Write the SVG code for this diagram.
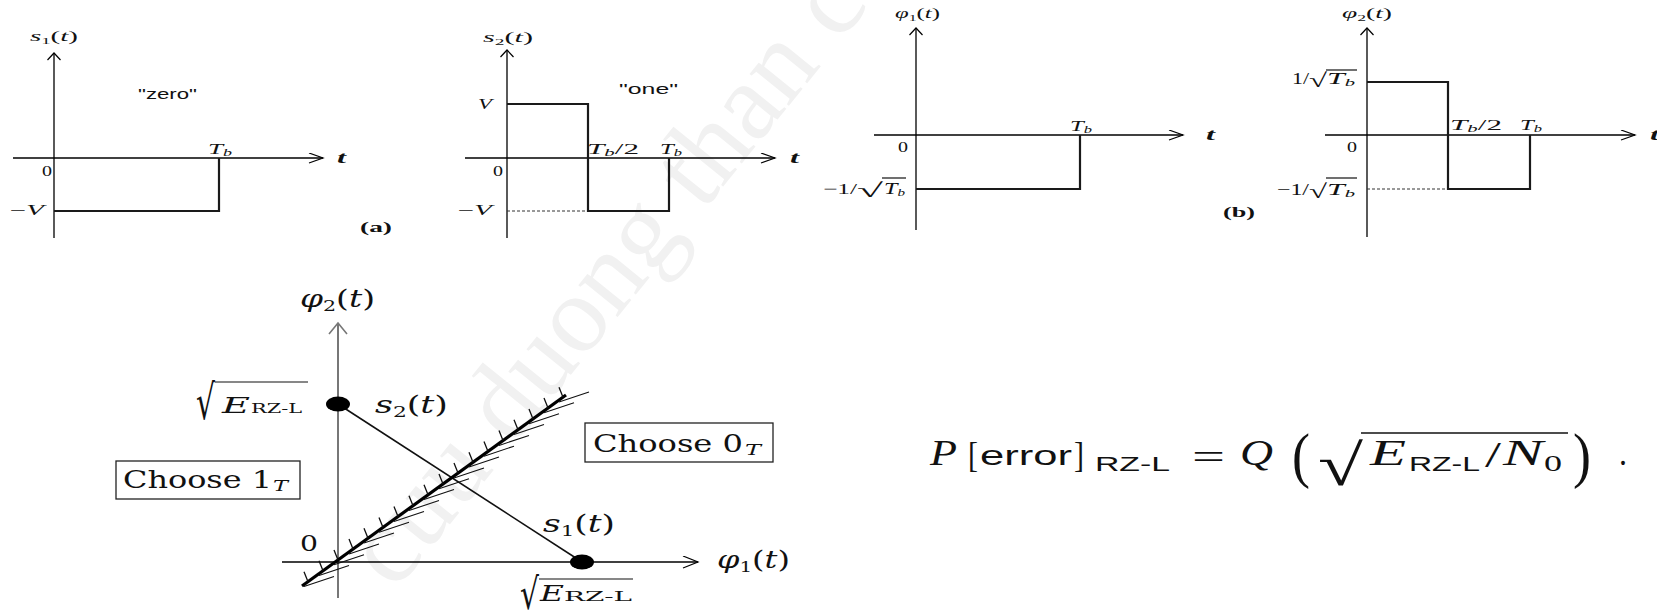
<svg xmlns="http://www.w3.org/2000/svg" width="1657" height="614" viewBox="0 0 1657 614">
<style>
.ax{stroke:#000;stroke-width:1.3;fill:none}
.pl{stroke:#1a1a1a;stroke-width:2.2;fill:none}
.ds{stroke:#333;stroke-width:1;stroke-dasharray:3 2;fill:none}
.t{font-family:"Liberation Serif",serif;fill:#111}
.dj{font-family:"DejaVu Serif",serif;fill:#111}
.sa{font-family:"Liberation Sans",sans-serif;fill:#111}
.i{font-style:italic}
.b{font-weight:bold}
.ln{stroke:#111;stroke-width:1.2;fill:none}
</style>
<defs>
<marker id="aR" markerUnits="userSpaceOnUse" markerWidth="18" markerHeight="12" refX="15" refY="5.5" orient="auto"><path d="M1,0.5 L15,5.5 L1,10.5" fill="none" stroke="#000" stroke-width="1.2"/></marker>
<marker id="aU" markerUnits="userSpaceOnUse" markerWidth="10" markerHeight="16" refX="8" refY="7" orient="auto"><path d="M1,0.5 L8,7 L1,13.5" fill="none" stroke="#000" stroke-width="1.2"/></marker>
<marker id="aU2" markerUnits="userSpaceOnUse" markerWidth="14" markerHeight="22" refX="12" refY="10" orient="auto"><path d="M1,1 L12,10 L1,19" fill="none" stroke="#777" stroke-width="1.6"/></marker>
<marker id="aR2" markerUnits="userSpaceOnUse" markerWidth="18" markerHeight="14" refX="16" refY="6.5" orient="auto"><path d="M1,0.5 L16,6.5 L1,12.5" fill="none" stroke="#000" stroke-width="1.2"/></marker>
</defs>
<rect width="1657" height="614" fill="#fff"/>
<text transform="translate(395,592) rotate(-51)" font-size="110" fill="#f1f1f1" font-family="Liberation Serif,serif">cuu duong than cong . com</text>

<g id="connectors">
<line class="ax" x1="54" y1="238" x2="54" y2="53" marker-end="url(#aU)"/>
<line class="ax" x1="13" y1="158" x2="323" y2="158" marker-end="url(#aR)"/>
<line class="ax" x1="507" y1="238" x2="507" y2="50" marker-end="url(#aU)"/>
<line class="ax" x1="465" y1="158" x2="775" y2="158" marker-end="url(#aR)"/>
<line class="ax" x1="916" y1="230" x2="916" y2="28" marker-end="url(#aU)"/>
<line class="ax" x1="874" y1="135" x2="1183" y2="135" marker-end="url(#aR)"/>
<line class="ax" x1="1367" y1="237" x2="1367" y2="28" marker-end="url(#aU)"/>
<line class="ax" x1="1325" y1="135" x2="1635" y2="135" marker-end="url(#aR)"/>
<line x1="338" y1="598" x2="338" y2="323" stroke="#777" stroke-width="2" marker-end="url(#aU2)"/>
<line class="ax" x1="282" y1="562" x2="698" y2="562" marker-end="url(#aR2)"/>
<line x1="338" y1="404" x2="582" y2="562" stroke="#111" stroke-width="1.6"/>
</g>

<g id="panel-s1">
<polyline class="pl" points="54,211 219,211 219,158"/>
<text class="t" x="30" y="41" font-size="14" textLength="48" lengthAdjust="spacingAndGlyphs"><tspan class="i">s</tspan><tspan font-size="9" dy="3">1</tspan><tspan dy="-3">(</tspan><tspan class="i">t</tspan>)</text>
<text class="sa" x="138" y="99" font-size="15" textLength="59" lengthAdjust="spacingAndGlyphs">"zero"</text>
<text class="t i" x="208" y="154" font-size="15" textLength="24" lengthAdjust="spacingAndGlyphs">T<tspan font-size="10" dy="2">b</tspan></text>
<text class="t i b" x="337" y="163" font-size="16" textLength="9" lengthAdjust="spacingAndGlyphs">t</text>
<text class="t" x="42" y="176" font-size="14" textLength="10" lengthAdjust="spacingAndGlyphs">0</text>
<text class="t" x="10" y="215" font-size="14" textLength="34" lengthAdjust="spacingAndGlyphs">−<tspan class="i">V</tspan></text>
<text class="t b" x="360" y="232" font-size="15" textLength="32" lengthAdjust="spacingAndGlyphs">(a)</text>
</g>

<g id="panel-s2">
<line class="ds" x1="507" y1="211" x2="588" y2="211"/>
<polyline class="pl" points="507,104 588,104 588,211 669,211 669,158"/>
<text class="t" x="483" y="42" font-size="14" textLength="50" lengthAdjust="spacingAndGlyphs"><tspan class="i">s</tspan><tspan font-size="9" dy="3">2</tspan><tspan dy="-3">(</tspan><tspan class="i">t</tspan>)</text>
<text class="sa" x="619" y="94" font-size="15" textLength="59" lengthAdjust="spacingAndGlyphs">"one"</text>
<text class="t i" x="478" y="109" font-size="15" textLength="14" lengthAdjust="spacingAndGlyphs">V</text>
<text class="t" x="587" y="154" font-size="15" textLength="52" lengthAdjust="spacingAndGlyphs"><tspan class="i">T</tspan><tspan class="i" font-size="10" dy="2">b</tspan><tspan dy="-2">/2</tspan></text>
<text class="t i" x="660" y="154" font-size="15" textLength="22" lengthAdjust="spacingAndGlyphs">T<tspan font-size="10" dy="2">b</tspan></text>
<text class="t i b" x="790" y="163" font-size="16" textLength="9" lengthAdjust="spacingAndGlyphs">t</text>
<text class="t" x="493" y="176" font-size="14" textLength="10" lengthAdjust="spacingAndGlyphs">0</text>
<text class="t" x="458" y="215" font-size="14" textLength="34" lengthAdjust="spacingAndGlyphs">−<tspan class="i">V</tspan></text>
</g>

<g id="panel-phi1">
<polyline class="pl" points="916,189 1080,189 1080,135"/>
<text class="t" x="895" y="18" font-size="14" textLength="45" lengthAdjust="spacingAndGlyphs"><tspan class="i">φ</tspan><tspan font-size="9" dy="3">1</tspan><tspan dy="-3">(</tspan><tspan class="i">t</tspan>)</text>
<text class="t i" x="1070" y="131" font-size="15" textLength="22" lengthAdjust="spacingAndGlyphs">T<tspan font-size="10" dy="2">b</tspan></text>
<text class="t i b" x="1206" y="140" font-size="16" textLength="9" lengthAdjust="spacingAndGlyphs">t</text>
<text class="t" x="898" y="152" font-size="14" textLength="10" lengthAdjust="spacingAndGlyphs">0</text>
<text class="t" x="823" y="194" font-size="15" textLength="34" lengthAdjust="spacingAndGlyphs">−1/</text>
<text class="t" x="857" y="197" font-size="20" textLength="26" lengthAdjust="spacingAndGlyphs">√</text>
<line class="ln" x1="882" y1="178" x2="906" y2="178"/>
<text class="t i" x="884" y="194" font-size="16" textLength="21" lengthAdjust="spacingAndGlyphs">T<tspan font-size="10" dy="2">b</tspan></text>
</g>

<g id="panel-phi2">
<line class="ds" x1="1367" y1="189" x2="1448" y2="189"/>
<polyline class="pl" points="1367,82 1448,82 1448,189 1530,189 1530,135"/>
<text class="t" x="1342" y="18" font-size="14" textLength="50" lengthAdjust="spacingAndGlyphs"><tspan class="i">φ</tspan><tspan font-size="9" dy="3">2</tspan><tspan dy="-3">(</tspan><tspan class="i">t</tspan>)</text>
<text class="t" x="1292" y="84" font-size="16" textLength="17" lengthAdjust="spacingAndGlyphs">1/</text>
<text class="t" x="1309" y="87" font-size="20" textLength="18" lengthAdjust="spacingAndGlyphs">√</text>
<line class="ln" x1="1326" y1="70" x2="1357" y2="70"/>
<text class="t i" x="1327" y="84" font-size="17" textLength="28" lengthAdjust="spacingAndGlyphs">T<tspan font-size="11" dy="2">b</tspan></text>
<text class="t" x="1450" y="130" font-size="15" textLength="52" lengthAdjust="spacingAndGlyphs"><tspan class="i">T</tspan><tspan class="i" font-size="10" dy="2">b</tspan><tspan dy="-2">/2</tspan></text>
<text class="t i" x="1520" y="130" font-size="15" textLength="22" lengthAdjust="spacingAndGlyphs">T<tspan font-size="10" dy="2">b</tspan></text>
<text class="t i b" x="1650" y="140" font-size="16" textLength="9" lengthAdjust="spacingAndGlyphs">t</text>
<text class="t" x="1347" y="152" font-size="14" textLength="10" lengthAdjust="spacingAndGlyphs">0</text>
<text class="t" x="1277" y="195" font-size="16" textLength="32" lengthAdjust="spacingAndGlyphs">−1/</text>
<text class="t" x="1309" y="198" font-size="20" textLength="18" lengthAdjust="spacingAndGlyphs">√</text>
<line class="ln" x1="1326" y1="178" x2="1357" y2="178"/>
<text class="t i" x="1327" y="195" font-size="17" textLength="28" lengthAdjust="spacingAndGlyphs">T<tspan font-size="11" dy="2">b</tspan></text>
<text class="t b" x="1223" y="217" font-size="15" textLength="32" lengthAdjust="spacingAndGlyphs">(b)</text>
</g>

<g id="boundary">
<line x1="302" y1="586" x2="566" y2="395" stroke="#000" stroke-width="3.2"/>
<path stroke="#111" stroke-width="1.3" fill="none" d="M308,581.7l-4,-10M323,570.8l-4,-10M338,560l-4,-10M353,549.1l-4,-10M368,538.3l-4,-10M383,527.4l-4,-10M398,516.6l-4,-10M413,505.7l-4,-10M428,494.8l-4,-10M443,484l-4,-10M458,473.1l-4,-10M473,462.3l-4,-10M488,451.4l-4,-10M503,440.6l-4,-10M518,429.7l-4,-10M533,418.9l-4,-10M548,408l-4,-10M563,397.2l-4,-10"/>
<path stroke="#111" stroke-width="1.1" fill="none" d="M304,586.5l30,-10M319,575.6l30,-10M334,564.8l30,-10M349,553.9l30,-10M364,543.1l30,-10M379,532.2l30,-10M394,521.4l30,-10M409,510.5l30,-10M424,499.6l30,-10M439,488.8l30,-10M454,477.9l30,-10M469,467.1l30,-10M484,456.2l30,-10M499,445.4l30,-10M514,434.5l30,-10M529,423.7l30,-10M544,412.8l30,-10M559,402l30,-10"/>
</g>

<g id="node-s2">
<ellipse cx="338" cy="404" rx="12" ry="7.5" fill="#000"/>
<text class="dj" x="375" y="413" font-size="24" textLength="73" lengthAdjust="spacingAndGlyphs"><tspan class="i">s</tspan><tspan font-size="15" dy="4">2</tspan><tspan dy="-4">(</tspan><tspan class="i">t</tspan>)</text>
<text class="dj" x="196" y="419" font-size="48" textLength="19" lengthAdjust="spacingAndGlyphs">√</text>
<line class="ln" x1="215" y1="382" x2="308" y2="382"/>
<text class="dj i" x="222" y="413" font-size="22" textLength="28" lengthAdjust="spacingAndGlyphs">E</text>
<text class="dj" x="251" y="413" font-size="12" textLength="51" lengthAdjust="spacingAndGlyphs">RZ-L</text>
</g>

<g id="node-s1">
<ellipse cx="582" cy="562" rx="12" ry="7.5" fill="#000"/>
<text class="dj" x="543" y="532" font-size="24" textLength="72" lengthAdjust="spacingAndGlyphs"><tspan class="i">s</tspan><tspan font-size="15" dy="4">1</tspan><tspan dy="-4">(</tspan><tspan class="i">t</tspan>)</text>
<text class="dj" x="520" y="609" font-size="43" textLength="19" lengthAdjust="spacingAndGlyphs">√</text>
<line class="ln" x1="539" y1="579" x2="633" y2="579"/>
<text class="dj i" x="540" y="601" font-size="22" textLength="24" lengthAdjust="spacingAndGlyphs">E</text>
<text class="dj" x="564" y="601" font-size="12" textLength="68" lengthAdjust="spacingAndGlyphs">RZ-L</text>
</g>

<g id="axis-labels">
<text class="dj" x="300" y="307" font-size="24" textLength="75" lengthAdjust="spacingAndGlyphs"><tspan class="i">φ</tspan><tspan font-size="15" dy="4">2</tspan><tspan dy="-4">(</tspan><tspan class="i">t</tspan>)</text>
<text class="dj" x="717" y="568" font-size="24" textLength="73" lengthAdjust="spacingAndGlyphs"><tspan class="i">φ</tspan><tspan font-size="15" dy="4">1</tspan><tspan dy="-4">(</tspan><tspan class="i">t</tspan>)</text>
<text class="dj" x="300" y="551" font-size="22" textLength="18" lengthAdjust="spacingAndGlyphs">0</text>
</g>

<g id="choose1">
<rect x="116" y="461" width="184" height="38" fill="none" stroke="#222" stroke-width="1.3"/>
<text class="dj" x="123" y="488" font-size="24" textLength="149" lengthAdjust="spacingAndGlyphs">Choose 1</text>
<text class="dj i" x="273" y="491" font-size="14" textLength="15" lengthAdjust="spacingAndGlyphs">T</text>
</g>

<g id="choose0">
<rect x="585" y="423" width="188" height="39" fill="none" stroke="#222" stroke-width="1.3"/>
<text class="dj" x="593" y="452" font-size="24" textLength="150" lengthAdjust="spacingAndGlyphs">Choose 0</text>
<text class="dj i" x="745" y="455" font-size="14" textLength="16" lengthAdjust="spacingAndGlyphs">T</text>
</g>

<g id="formula">
<text class="t i" x="930" y="465" font-size="36" textLength="27" lengthAdjust="spacingAndGlyphs">P</text>
<text class="t" x="968" y="467" font-size="36" textLength="10" lengthAdjust="spacingAndGlyphs">[</text>
<text class="sa" x="980" y="465" font-size="27" textLength="92" lengthAdjust="spacingAndGlyphs">error</text>
<text class="t" x="1074" y="467" font-size="36" textLength="10" lengthAdjust="spacingAndGlyphs">]</text>
<text class="sa" x="1095" y="471" font-size="21" textLength="75" lengthAdjust="spacingAndGlyphs">RZ-L</text>
<text class="t" x="1192" y="469" font-size="36" textLength="33" lengthAdjust="spacingAndGlyphs">=</text>
<text class="t i" x="1240" y="465" font-size="36" textLength="33" lengthAdjust="spacingAndGlyphs">Q</text>
<text class="t" x="1292" y="476" font-size="62" textLength="18" lengthAdjust="spacingAndGlyphs">(</text>
<text class="t" x="1318" y="485" font-size="58" textLength="45" lengthAdjust="spacingAndGlyphs">√</text>
<line x1="1361" y1="433" x2="1568" y2="433" stroke="#111" stroke-width="1.6"/>
<text class="t i" x="1370" y="465" font-size="36" textLength="36" lengthAdjust="spacingAndGlyphs">E</text>
<text class="sa" x="1409" y="471" font-size="21" textLength="71" lengthAdjust="spacingAndGlyphs">RZ-L</text>
<text class="t" x="1485" y="467" font-size="36" textLength="16" lengthAdjust="spacingAndGlyphs">/</text>
<text class="t i" x="1503" y="465" font-size="36" textLength="40" lengthAdjust="spacingAndGlyphs">N</text>
<text class="t" x="1544" y="471" font-size="24" textLength="18" lengthAdjust="spacingAndGlyphs">0</text>
<text class="t" x="1573" y="476" font-size="62" textLength="18" lengthAdjust="spacingAndGlyphs">)</text>
<text class="t" x="1619" y="465" font-size="36" textLength="8" lengthAdjust="spacingAndGlyphs">.</text>
</g>
</svg>
